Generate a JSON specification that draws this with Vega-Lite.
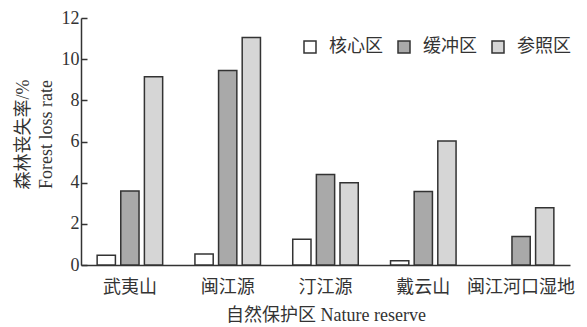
{
  "$schema": "https://vega.github.io/schema/vega-lite/v6.json",
  "width": 489,
  "height": 247,
  "autosize": "none",
  "padding": {"left": 81, "top": 18, "right": 17, "bottom": 62},
  "background": "white",
  "config": {
    "view": {"stroke": null},
    "font": "Liberation Serif, Noto Sans CJK SC",
    "axis": {"grid": false, "domainColor": "#333", "domainWidth": 1.5, "tickColor": "#333", "tickWidth": 1.5, "labelColor": "#333", "titleColor": "#333", "labelFont": "Liberation Serif, Noto Sans CJK SC", "titleFont": "Liberation Serif, Noto Sans CJK SC", "titleFontWeight": "normal"},
    "legend": {"labelFont": "Liberation Serif, Noto Sans CJK SC", "labelColor": "#333"}
  },
  "data": {
    "values": [
      {"reserve": "武夷山", "zone": "核心区", "rate": 0.47},
      {"reserve": "武夷山", "zone": "缓冲区", "rate": 3.6},
      {"reserve": "武夷山", "zone": "参照区", "rate": 9.15},
      {"reserve": "闽江源", "zone": "核心区", "rate": 0.53},
      {"reserve": "闽江源", "zone": "缓冲区", "rate": 9.45},
      {"reserve": "闽江源", "zone": "参照区", "rate": 11.05},
      {"reserve": "汀江源", "zone": "核心区", "rate": 1.25},
      {"reserve": "汀江源", "zone": "缓冲区", "rate": 4.4},
      {"reserve": "汀江源", "zone": "参照区", "rate": 4.0},
      {"reserve": "戴云山", "zone": "核心区", "rate": 0.21},
      {"reserve": "戴云山", "zone": "缓冲区", "rate": 3.57},
      {"reserve": "戴云山", "zone": "参照区", "rate": 6.02},
      {"reserve": "闽江河口湿地", "zone": "缓冲区", "rate": 1.39},
      {"reserve": "闽江河口湿地", "zone": "参照区", "rate": 2.78}
    ]
  },
  "mark": {"type": "bar", "stroke": "#333", "strokeWidth": 1.5},
  "encoding": {
    "x": {
      "field": "reserve",
      "type": "nominal",
      "sort": ["武夷山", "闽江源", "汀江源", "戴云山", "闽江河口湿地"],
      "scale": {"paddingInner": 0.33, "paddingOuter": 0.165},
      "axis": {"title": "自然保护区 Nature reserve", "labelAngle": 0, "labelFontSize": 18, "titleFontSize": 18, "ticks": false, "labelPadding": 13, "titlePadding": 10}
    },
    "xOffset": {
      "field": "zone",
      "type": "nominal",
      "scale": {"domain": ["核心区", "缓冲区", "参照区"], "paddingInner": 0.227, "paddingOuter": 0}
    },
    "y": {
      "field": "rate",
      "type": "quantitative",
      "scale": {"domain": [0, 12], "nice": false},
      "axis": {"title": ["森林丧失率/%", "Forest loss rate"], "values": [0, 2, 4, 6, 8, 10, 12], "tickSize": -6, "labelFontSize": 18, "titleFontSize": 18, "labelPadding": 8, "titlePadding": 6, "titleLineHeight": 23, "titleY": 116}
    },
    "fill": {
      "field": "zone",
      "type": "nominal",
      "scale": {"domain": ["核心区", "缓冲区", "参照区"], "range": ["#ffffff", "#a9a9a9", "#d6d6d6"]},
      "legend": {"title": null, "orient": "none", "legendX": 220, "legendY": 20, "direction": "horizontal", "columns": 3, "symbolType": "square", "symbolSize": 144, "symbolStrokeColor": "#333", "symbolStrokeWidth": 1.5, "labelFontSize": 18, "labelOffset": 10, "columnPadding": 12}
    }
  }
}
